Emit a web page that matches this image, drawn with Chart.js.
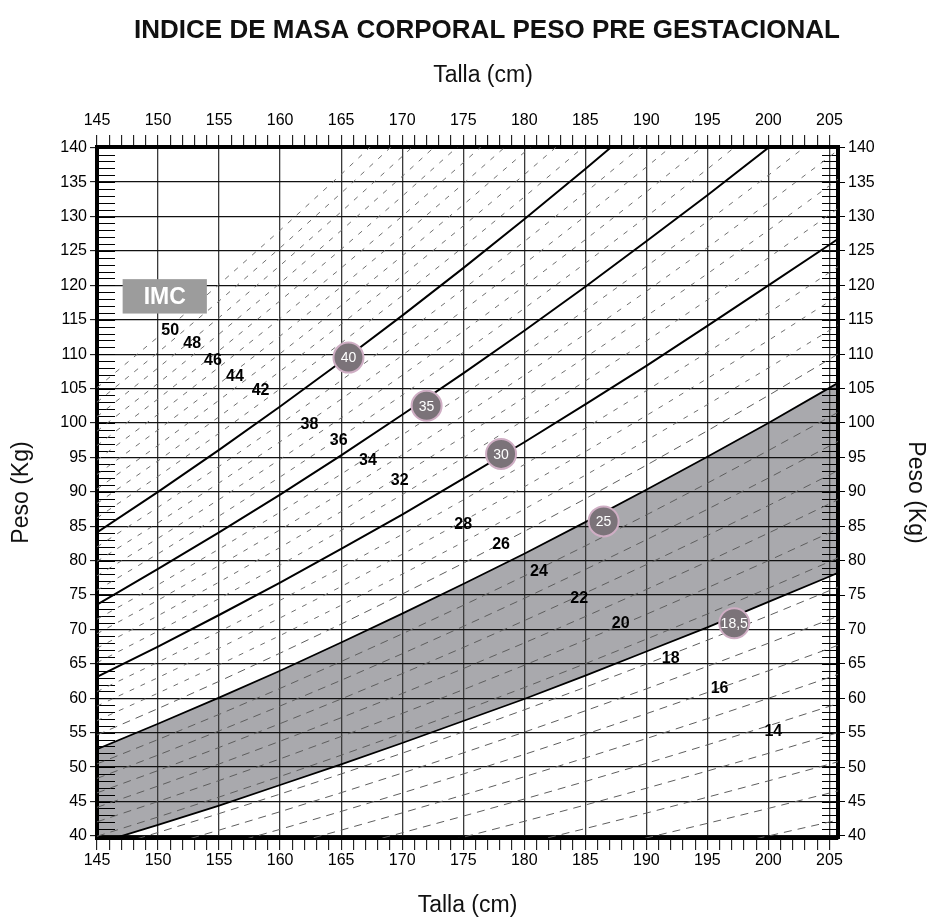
<!DOCTYPE html>
<html><head><meta charset="utf-8">
<script src="https://cdn.jsdelivr.net/npm/chart.js@4/dist/chart.umd.min.js"></script>
<style>html,body{margin:0;padding:0;background:#fff}canvas{display:block}</style>
</head><body>
<canvas id="c" width="930" height="919"></canvas>
<script>
// ---- data ----
const heightsCm = [145,150,155,160,165,170,175,180,185,190,195,200,205,210];
const weightBmi185 = [38.9,41.6,44.4,47.4,50.4,53.5,56.7,59.9,63.3,66.8,70.3,74.0,77.7,81.6];
const weightBmi25  = [52.6,56.3,60.1,64.0,68.1,72.3,76.6,81.0,85.6,90.3,95.1,100.0,105.1,110.3];
const weightBmi30  = [63.1,67.5,72.1,76.8,81.7,86.7,91.9,97.2,102.7,108.3,114.1,120.0,125.9,132.0];
const weightBmi35  = [73.6,78.8,84.1,89.6,95.3,101.2,107.2,113.4,119.8,126.4,133.1,140.0,147.1,154.4];
const weightBmi40  = [84.1,90.0,96.1,102.4,108.9,115.6,122.5,129.6,136.9,144.4,152.1,160.0,168.1,176.4];
// dashed iso-BMI guide lines (one per BMI unit)
const dashedBmiLow  = [10,11,12,13,14,15,16,17,18,19,20,21,22,23,24,26];
const dashedBmiHigh = [27,28,29,31,32,33,34,36,37,38,39,41,42,43,44,45,46,47,48,49,50];
// even BMI labels and where they sit (height cm, weight kg)
const evenLabels   = ['50','48','46','44','42','38','36','34','32','28','26','24','22','20','18','16','14'];
const labelHeights = [151.0,152.8,154.5,156.3,158.4,162.4,164.8,167.2,169.8,175.0,178.1,181.2,184.5,187.9,192.0,196.0,200.4];
const labelWeights = [113.4,111.6,109.1,106.8,104.7,99.8,97.4,94.5,91.6,85.3,82.3,78.4,74.5,70.9,65.8,61.4,55.2];
// circled BMI markers
const circleLabels  = ['40','35','30','25','18,5'];
const circleHeights = [165.6,172.0,178.1,186.5,197.2];
const circleWeights = [109.5,102.5,95.5,85.7,70.9];
// IMC badge corners
const imcHeights = [147.1,154.0];
const imcWeights = [115.9,120.9];

const FONT = '"Liberation Sans", Arial, Helvetica, sans-serif';
Chart.defaults.font.family = FONT;
Chart.defaults.color = '#000';

const pts = ws => heightsCm.map((h,i)=>({x:h, y:ws[i]}));
const isoPts = b => heightsCm.map(h=>({x:h, y:b*(h/100)*(h/100)}));

const datasets = [];
datasets.push({label:'circles', data: circleHeights.map((h,i)=>({x:h,y:circleWeights[i]})),
  showLine:false, pointRadius:15, pointHoverRadius:15, backgroundColor:'#7b7379', borderColor:'#cfaec4', borderWidth:2, order:0});
const solid = [['18,5',weightBmi185,1.8],['25',weightBmi25,1.8],['30',weightBmi30,2],['35',weightBmi35,2],['40',weightBmi40,2]];
solid.forEach(([n,w,lw])=>{
  datasets.push({label:'IMC '+n, data:pts(w), showLine:true, pointRadius:0, borderColor:'#000', borderWidth:lw, tension:0, fill:false, order:1});
});
// fill band 18.5 - 25 (dataset index of 18,5 is 1)
datasets[2].fill = {target:1};
datasets[2].backgroundColor = '#a9a9ad';
dashedBmiLow.forEach(b=>datasets.push({label:'d'+b, data:isoPts(b), showLine:true, pointRadius:0, borderColor:'#5e5e5e', borderWidth:1, borderDash:[8,6], tension:0, fill:false, order:2}));
dashedBmiHigh.forEach(b=>datasets.push({label:'d'+b, data:isoPts(b), showLine:true, pointRadius:0, borderColor:'#707070', borderWidth:1, borderDash:[5,7], tension:0, fill:false, order:2}));

const xTicks = (pad)=>({stepSize:1, autoSkip:false, includeBounds:false, maxRotation:0, minRotation:0,
  callback:v=> (v%5===0 ? String(v) : ''), font:{size:16}, color:'#000', padding:pad});
const xGrid = (onArea)=>({drawOnChartArea:onArea, color:c=> (c.tick && c.tick.value%5===0) ? '#3a3a3a' : 'rgba(0,0,0,0)',
  lineWidth:1.3, tickColor:'#000', tickLength:12, tickWidth:1});

const overlay = {
  id:'overlay',
  beforeDatasetsDraw(chart){
    const {ctx, chartArea:a, scales:{y}} = chart;
    ctx.save(); ctx.strokeStyle='#000'; ctx.lineWidth=1;
    for(let v=40; v<=140; v++){
      const py = Math.round(y.getPixelForValue(v))+0.5;
      ctx.beginPath(); ctx.moveTo(a.left,py); ctx.lineTo(a.left+18,py);
      ctx.moveTo(a.right-16,py); ctx.lineTo(a.right,py); ctx.stroke();
    }
    ctx.restore();
  },
  afterDatasetsDraw(chart){
    const {ctx, scales:{x,y}} = chart;
    ctx.save();
    ctx.textAlign='center'; ctx.textBaseline='middle';
    ctx.font = 'bold 16px '+FONT; ctx.fillStyle='#000';
    evenLabels.forEach((t,i)=>ctx.fillText(t, x.getPixelForValue(labelHeights[i]), y.getPixelForValue(labelWeights[i])));
    ctx.font = '14px '+FONT; ctx.fillStyle='#fff';
    circleLabels.forEach((t,i)=>ctx.fillText(t, x.getPixelForValue(circleHeights[i]), y.getPixelForValue(circleWeights[i])+1));
    const x0=x.getPixelForValue(imcHeights[0]), x1=x.getPixelForValue(imcHeights[1]);
    const y0=y.getPixelForValue(imcWeights[1]), y1=y.getPixelForValue(imcWeights[0]);
    ctx.fillStyle='#9c9c9c'; ctx.fillRect(x0,y0,x1-x0,y1-y0);
    ctx.fillStyle='#fff'; ctx.font='bold 23px '+FONT;
    ctx.fillText('IMC',(x0+x1)/2,(y0+y1)/2+1);
    ctx.restore();
  },
  afterDraw(chart){
    const {ctx} = chart;
    ctx.save(); ctx.fillStyle='#111'; ctx.textAlign='center'; ctx.textBaseline='middle';
    ctx.font='bold 26px '+FONT;
    ctx.fillText('INDICE DE MASA CORPORAL PESO PRE GESTACIONAL', 487, 31);
    ctx.font='23px '+FONT;
    ctx.fillText('Talla (cm)', 483, 76);
    ctx.restore();
  }
};

new Chart(document.getElementById('c'), {
  type:'scatter',
  data:{datasets},
  plugins:[overlay],
  options:{
    responsive:false, animation:false, devicePixelRatio:1,
    layout:{padding:0},
    plugins:{legend:{display:false}, tooltip:{enabled:false}, title:{display:false}, filler:{drawTime:'beforeDraw'}},
    scales:{
      x:{type:'linear', position:'bottom', min:145, max:205.7,
        ticks:xTicks(1), grid:xGrid(true), border:{display:true, color:'#000', width:4},
        title:{display:true, text:'Talla (cm)', font:{size:23}, color:'#111', padding:{top:0,bottom:0}},
        afterFit:s=>{s.height=81;}},
      xTop:{type:'linear', position:'top', min:145, max:205.7,
        ticks:xTicks(5), grid:xGrid(false), border:{display:true, color:'#000', width:4},
        afterFit:s=>{s.height=147;}},
      y:{type:'linear', position:'left', min:39.7, max:140.1,
        ticks:{stepSize:5, includeBounds:false, font:{size:16}, color:'#000', padding:3},
        grid:{color:'#111', lineWidth:1.3, tickColor:'#000', tickLength:7, tickWidth:1},
        border:{display:true, color:'#000', width:4},
        title:{display:true, text:'Peso (Kg)', font:{size:23}, color:'#111', padding:{top:8,bottom:0}},
        afterFit:s=>{s.width=97;}},
      yRight:{type:'linear', position:'right', min:39.7, max:140.1,
        ticks:{stepSize:5, includeBounds:false, font:{size:16}, color:'#000', padding:3},
        grid:{drawOnChartArea:false, tickColor:'#000', tickLength:7, tickWidth:1},
        border:{display:true, color:'#000', width:4},
        title:{display:true, text:'Peso (Kg)', font:{size:23}, color:'#111', padding:{top:1,bottom:0}},
        afterFit:s=>{s.width=92;}}
    }
  }
});
</script>
</body></html>
